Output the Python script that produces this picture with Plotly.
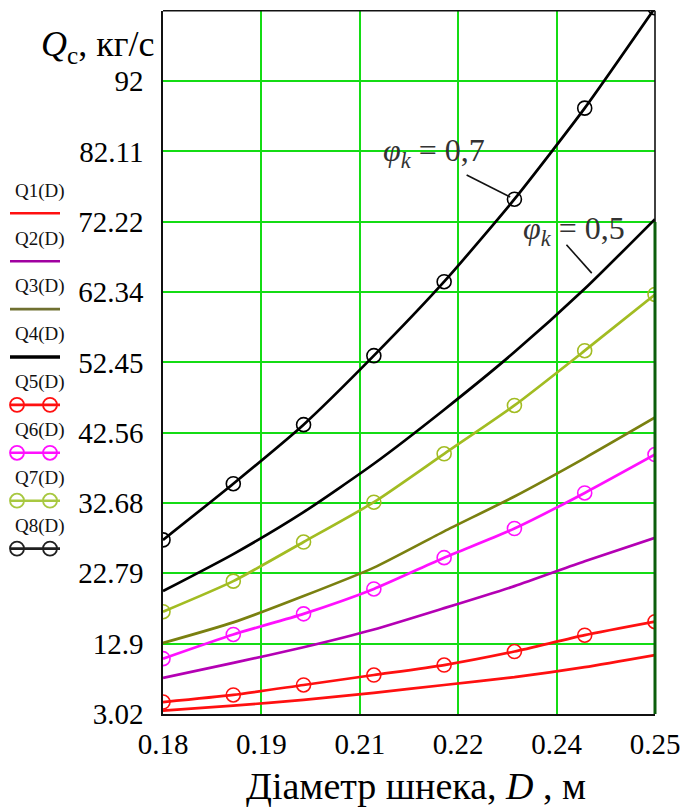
import numpy as np
import plotly.graph_objects as go

W, H = 688, 810
SERIF = "Liberation Serif"

# Screw diameter, m
D = [0.18, 0.19, 0.20, 0.21, 0.22, 0.23, 0.24, 0.25]

# Capacity curves, kg/s (phi_k = 0.5 plain lines, phi_k = 0.7 lines with circles)
Q1 = [3.5, 4.2, 5.0, 6.0, 7.1, 8.2, 9.6, 11.3]
Q2 = [8.1, 10.2, 12.4, 14.9, 17.9, 21.0, 24.5, 27.8]
Q3 = [13.0, 15.9, 19.6, 23.6, 28.7, 33.6, 39.0, 44.7]
Q4 = [20.3, 25.5, 31.4, 38.2, 45.8, 53.9, 62.8, 72.6]
Q5 = [4.7, 5.7, 7.1, 8.5, 9.9, 11.8, 14.1, 16.0]
Q6 = [10.8, 14.2, 17.1, 20.6, 25.0, 29.1, 34.1, 39.5]
Q7 = [17.4, 21.7, 27.2, 32.8, 39.6, 46.4, 54.1, 62.0]
Q8 = [27.5, 35.4, 43.7, 53.4, 63.8, 75.4, 88.2, 102.3]

names = ["Q1(D)", "Q2(D)", "Q3(D)", "Q4(D)", "Q5(D)", "Q6(D)", "Q7(D)", "Q8(D)"]
series = [Q1, Q2, Q3, Q4, Q5, Q6, Q7, Q8]
colors = ["#ff1010", "#b400b4", "#7a8010", "#000000",
          "#ff1010", "#ff10ff", "#a2bc22", "#000000"]
legend_colors = ["#ff1010", "#a000a0", "#6f7030", "#000000",
                 "#ff1010", "#ff10ff", "#a8c840", "#202020"]
with_markers = [False, False, False, False, True, True, True, True]

y_labels = ["3.02", "12.9", "22.79", "32.68", "42.56", "52.45",
            "62.34", "72.22", "82.11", "92"]
x_labels = ["0.18", "0.19", "0.21", "0.22", "0.24", "0.25"]

y_min, y_max = 3.02, 101.898
x_min, x_max = 0.18, 0.25
y_ticks = np.linspace(y_min, y_max, 11)[:10]
x_ticks = np.linspace(x_min, x_max, 6)

# plot area in pixels
L, R, T, B = 163, 655, 10.7, 714


def px(x):
    return x / W


def py(y):
    return 1 - y / H


fig = go.Figure()

for name, q, c, mk in zip(names, series, colors, with_markers):
    fig.add_trace(go.Scatter(
        x=D, y=q, name=name,
        mode="lines+markers" if mk else "lines",
        line=dict(color=c, width=2.7, shape="spline", smoothing=0.6),
        marker=dict(symbol="circle-open", size=14, color=c,
                    line=dict(width=1.6, color=c)),
        showlegend=False, cliponaxis=True,
        xaxis="x", yaxis="y",
    ))

# hand-built legend: label above a sample line, in pixel coordinates (x2/y2)
text_y0, line_y0, step = 190.7, 213.3, 47.9
annotations = []
for i, (name, c, mk) in enumerate(zip(names, legend_colors, with_markers)):
    ly = line_y0 + i * step
    fig.add_trace(go.Scatter(
        x=[10, 60], y=[ly, ly], mode="lines",
        line=dict(color=c, width=3.4 if i == 3 else 2.6),
        showlegend=False, xaxis="x2", yaxis="y2", hoverinfo="skip"))
    if mk:
        fig.add_trace(go.Scatter(
            x=[17, 50], y=[ly, ly], mode="markers",
            marker=dict(symbol="circle-open", size=14, color=c,
                        line=dict(width=1.8, color=c)),
            showlegend=False, xaxis="x2", yaxis="y2", hoverinfo="skip"))
    annotations.append(dict(
        x=px(40), y=py(text_y0 + i * step), xref="paper", yref="paper",
        text=name, showarrow=False, xanchor="center", yanchor="middle",
        font=dict(family=SERIF, size=19, color="#111111")))

# axis titles
annotations.append(dict(
    x=px(156), y=py(46), xref="paper", yref="paper",
    text="<i>Q</i><sub>с</sub>, кг/с", showarrow=False,
    xanchor="right", yanchor="middle",
    font=dict(family=SERIF, size=36, color="#000000")))
annotations.append(dict(
    x=px(416), y=py(786), xref="paper", yref="paper",
    text="Діаметр шнека, <i>D</i> , м", showarrow=False,
    xanchor="center", yanchor="middle",
    font=dict(family=SERIF, size=38, color="#000000")))

# curve-family labels
annotations.append(dict(
    x=0.2185, y=82.0, xref="x", yref="y",
    text="<i>φ</i><sub><i>k</i></sub> = 0,7", showarrow=False,
    xanchor="center", yanchor="middle",
    font=dict(family=SERIF, size=32, color="#333333")))
annotations.append(dict(
    x=0.2385, y=71.0, xref="x", yref="y",
    text="<i>φ</i><sub><i>k</i></sub> = 0,5", showarrow=False,
    xanchor="center", yanchor="middle",
    font=dict(family=SERIF, size=32, color="#333333")))

shapes = [
    # leader lines
    dict(type="line", xref="x", yref="y", x0=0.2232, y0=78.8, x1=0.2294, y1=75.7,
         line=dict(color="#111111", width=1.6)),
    dict(type="line", xref="x", yref="y", x0=0.2374, y0=69.0, x1=0.2410, y1=65.0,
         line=dict(color="#111111", width=1.6)),
    # frame
    dict(type="line", xref="paper", yref="paper", x0=px(L), y0=py(T), x1=px(R), y1=py(T),
         line=dict(color="#111111", width=1.6)),
    dict(type="line", xref="paper", yref="paper", x0=px(R), y0=py(T), x1=px(R), y1=py(222),
         line=dict(color="#111111", width=1.6)),
    dict(type="line", xref="paper", yref="paper", x0=px(R), y0=py(222), x1=px(R), y1=py(B),
         line=dict(color="#0b5e0b", width=3)),
]

grid_style = dict(
    showgrid=True, gridcolor="#14dc14", gridwidth=2,
    zeroline=False, ticks="", showline=True, linecolor="#111111",
    automargin=False,
)

fig.update_layout(
    width=W, height=H,
    margin=dict(l=0, r=0, t=0, b=0, autoexpand=False),
    paper_bgcolor="white", plot_bgcolor="rgba(0,0,0,0)",
    showlegend=False,
    xaxis=dict(domain=[px(L), px(R)], range=[x_min, x_max],
               tickmode="array", tickvals=x_ticks, ticktext=x_labels,
               linewidth=2, ticklabelstandoff=3, anchor="y",
               tickfont=dict(family=SERIF, size=29, color="#000000"),
               **grid_style),
    yaxis=dict(domain=[py(B), py(T)], range=[y_min, y_max],
               tickmode="array", tickvals=y_ticks, ticktext=y_labels,
               linewidth=1.6, ticklabelstandoff=12, anchor="x",
               tickfont=dict(family=SERIF, size=29, color="#000000"),
               **grid_style),
    xaxis2=dict(domain=[0, 1], range=[0, W], visible=False, anchor="y2",
                automargin=False),
    yaxis2=dict(domain=[0, 1], range=[H, 0], visible=False, anchor="x2",
                automargin=False),
    annotations=annotations,
    shapes=shapes,
)

fig.write_html("out.html")
